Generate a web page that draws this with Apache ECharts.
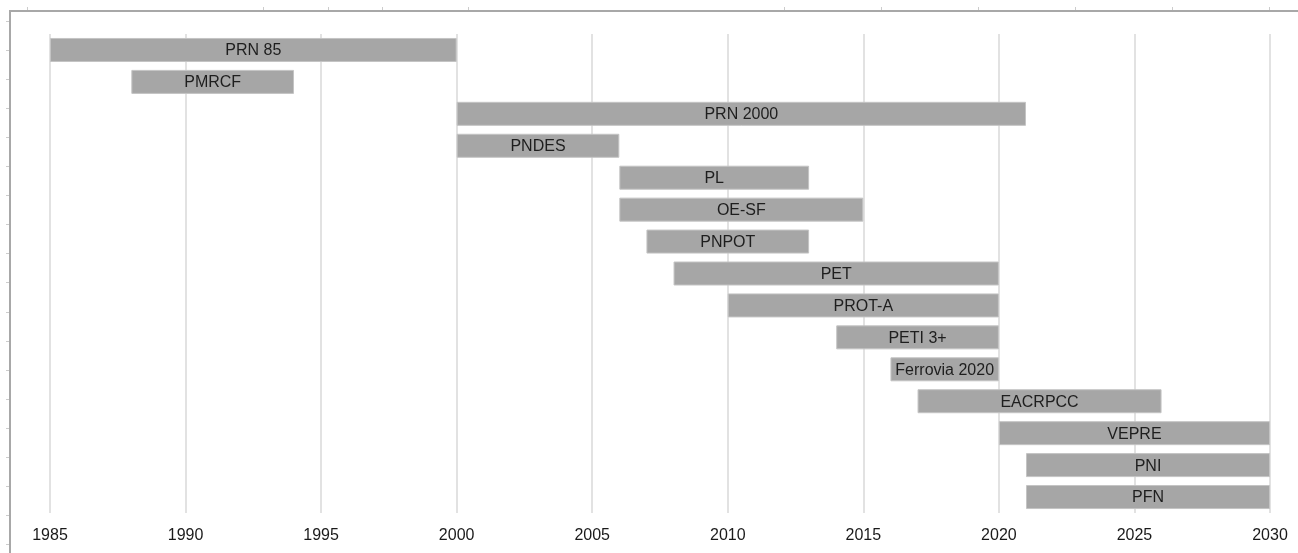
<!DOCTYPE html>
<html>
<head>
<meta charset="utf-8">
<title>Planos e programas 1985–2030</title>
<script src="https://cdn.jsdelivr.net/npm/echarts@6/dist/echarts.min.js"></script>
<style>
  html, body { margin: 0; padding: 0; background: #ffffff; }
  #chart { width: 1298px; height: 553px; }
</style>
</head>
<body>
<div id="chart"></div>
<script>
// Plans and programmes, listed from top to bottom
const plans = ['PRN 85', 'PMRCF', 'PRN 2000', 'PNDES', 'PL', 'OE-SF', 'PNPOT', 'PET',
  'PROT-A', 'PETI 3+', 'Ferrovia 2020', 'EACRPCC', 'VEPRE', 'PNI', 'PFN'];
// First and last year of each plan
const startYears = [1985, 1988, 2000, 2000, 2006, 2006, 2007, 2008, 2010, 2014, 2016, 2017, 2020, 2021, 2021];
const endYears   = [2000, 1994, 2021, 2006, 2013, 2015, 2013, 2020, 2020, 2020, 2020, 2026, 2030, 2030, 2030];
// Year axis
const yearMin = 1985;
const yearMax = 2030;
const yearStep = 5;

const durations = startYears.map((s, i) => endYears[i] - s);

const chart = echarts.init(document.getElementById('chart'), null, { renderer: 'canvas' });

// frame lines along the top and left edge of the page
const frame = [
  { type: 'line', shape: { x1: 9, y1: 11, x2: 1298, y2: 11 }, style: { stroke: '#a8a8a8', lineWidth: 2 }, silent: true },
  { type: 'line', shape: { x1: 10, y1: 11, x2: 10, y2: 553 }, style: { stroke: '#a8a8a8', lineWidth: 2 }, silent: true }
];
for (let y = 20.5; y < 553; y += 29.1) {
  frame.push({ type: 'line', shape: { x1: 6, y1: Math.round(y) + 0.5, x2: 9, y2: Math.round(y) + 0.5 },
    style: { stroke: '#cccccc', lineWidth: 1 }, silent: true });
}
[26.5, 263, 328, 382, 468, 784, 881, 978, 1075, 1172, 1269].forEach(x => {
  frame.push({ type: 'line', shape: { x1: Math.round(x) + 0.5, y1: 7, x2: Math.round(x) + 0.5, y2: 10 },
    style: { stroke: '#cccccc', lineWidth: 1 }, silent: true });
});

chart.setOption({
  animation: false,
  backgroundColor: '#ffffff',
  textStyle: { fontFamily: 'Liberation Sans, Arial, sans-serif' },
  graphic: frame,
  grid: { left: 50, right: 28, top: 34, bottom: 40, containLabel: false },
  xAxis: {
    type: 'value',
    min: yearMin,
    max: yearMax,
    interval: yearStep,
    axisLine: { show: false },
    axisTick: { show: false },
    axisLabel: {
      color: '#1a1a1a',
      fontSize: 16,
      margin: 15,
      formatter: v => String(v),
      fontFamily: 'Liberation Sans, Arial, sans-serif'
    },
    splitLine: { show: true, lineStyle: { color: '#d9d9d9', width: 1.5 } }
  },
  yAxis: {
    type: 'category',
    data: plans,
    inverse: true,
    axisLine: { show: false },
    axisTick: { show: false },
    axisLabel: { show: false },
    splitLine: { show: false }
  },
  series: [
    {
      name: 'start',
      type: 'bar',
      stack: 'span',
      data: startYears,
      barWidth: 24,
      itemStyle: { color: 'transparent' },
      silent: true
    },
    {
      name: 'duration',
      type: 'bar',
      stack: 'span',
      data: durations,
      barWidth: 24,
      itemStyle: { color: '#a6a6a6', borderColor: '#c4c4c4', borderWidth: 1 },
      label: {
        show: true,
        position: 'inside',
        offset: [0, 1],
        formatter: p => plans[p.dataIndex],
        color: '#1e1e1e',
        fontSize: 16,
        fontFamily: 'Liberation Sans, Arial, sans-serif'
      }
    }
  ]
});
</script>
</body>
</html>
